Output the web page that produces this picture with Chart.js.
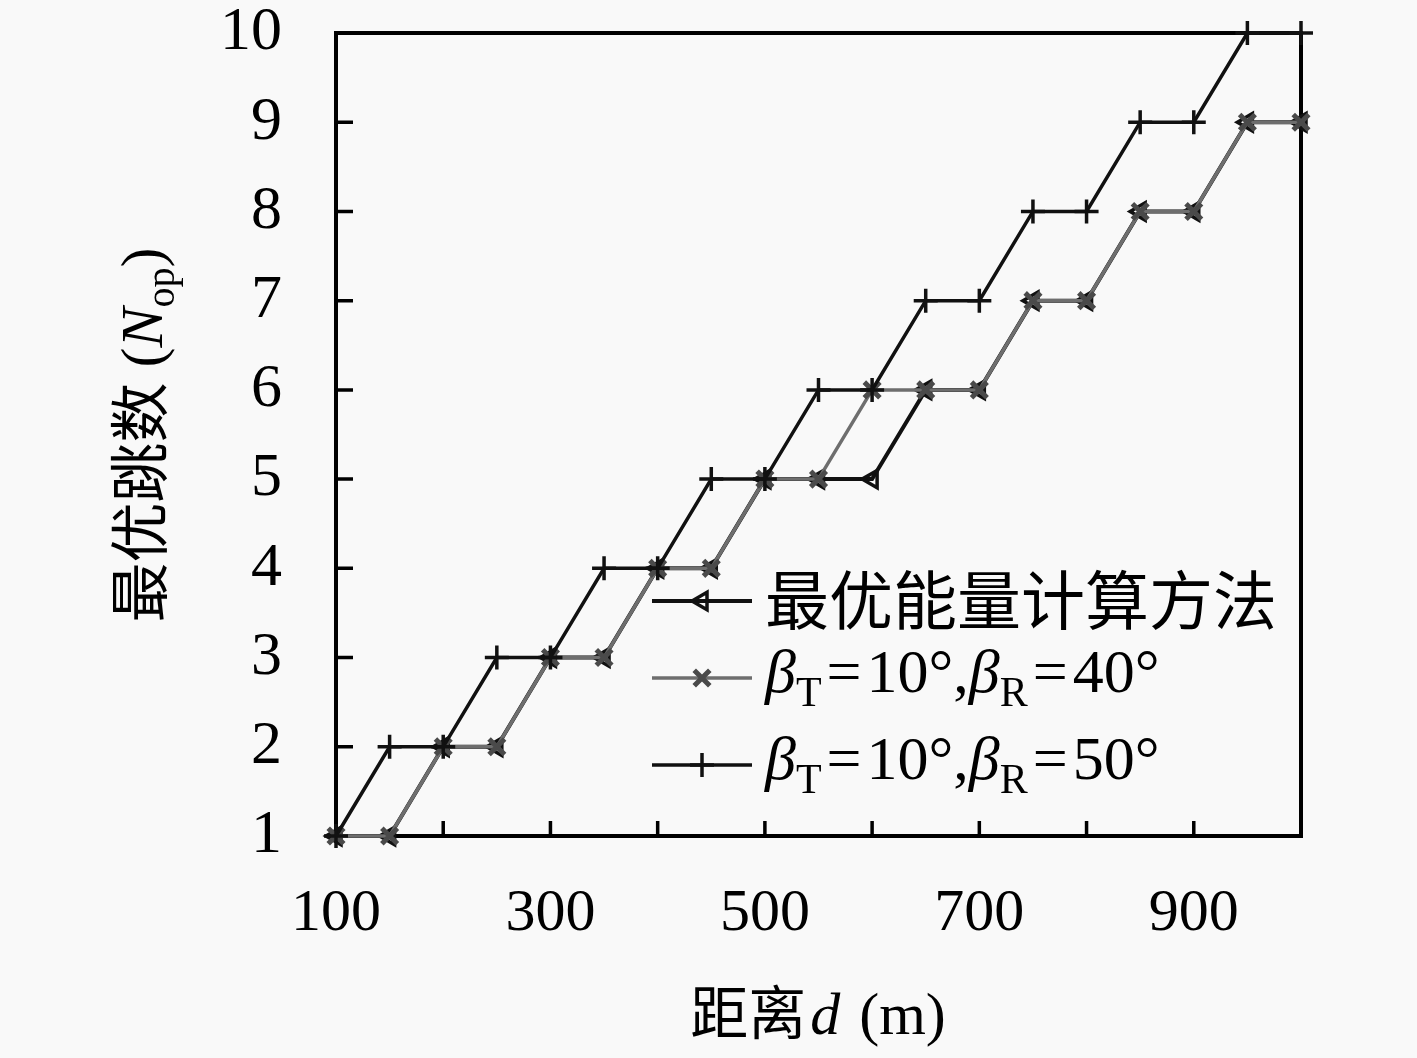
<!DOCTYPE html>
<html>
<head>
<meta charset="utf-8">
<script src="https://cdn.jsdelivr.net/npm/chart.js@4.4.0/dist/chart.umd.min.js"></script>
<style>
  html, body { margin: 0; padding: 0; background: #f9f9f9; }
  #wrap { width: 1417px; height: 1058px; }
</style>
</head>
<body>
<div id="wrap"><canvas id="hopChart" width="1417" height="1058"></canvas></div>
<script>
// distances (m) and optimal hop counts
const distances = [100, 150, 200, 250, 300, 350, 400, 450, 500, 550, 600, 650, 700, 750, 800, 850, 900, 950, 1000];
const hopsOptimal = [1, 1, 2, 2, 3, 3, 4, 4, 5, 5, 5, 6, 6, 7, 7, 8, 8, 9, 9];
const hopsR40 = [1, 1, 2, 2, 3, 3, 4, 4, 5, 5, 6, 6, 6, 7, 7, 8, 8, 9, 9];
const hopsR50 = [1, 2, 2, 3, 3, 4, 4, 5, 5, 6, 6, 7, 7, 8, 8, 9, 9, 10, 10];
const xTickLabels = [100, 300, 500, 700, 900];
const xTickMarks = [200, 300, 400, 500, 600, 700, 800, 900, 1000];
const yTickValues = [1, 2, 3, 4, 5, 6, 7, 8, 9, 10];

const SERIF = '"Liberation Serif", "DejaVu Serif", serif';
const CJK = '"Noto Sans CJK SC", sans-serif';

function toPoints(ys) {
    return distances.map((d, i) => ({ x: d, y: ys[i] }));
}

// text with subscripts / mixed fonts
function drawRich(ctx, segs, x, y, align) {
    let total = 0;
    segs.forEach(s => {
        ctx.font = s.font;
        s.w = ctx.measureText(s.t).width + (s.gap || 0) * 2;
        total += s.w;
    });
    let cx = align === 'center' ? x - total / 2 : x;
    ctx.textAlign = 'left';
    ctx.textBaseline = 'alphabetic';
    segs.forEach(s => {
        ctx.font = s.font;
        ctx.fillText(s.t, cx + (s.gap || 0), y + (s.dy || 0));
        cx += s.w;
    });
}

function betaLabel(rVal) {
    return [
        { t: 'β', font: `italic 62px ${SERIF}` },
        { t: 'T', font: `42px ${SERIF}`, dy: 14 },
        { t: '=', font: `62px ${SERIF}`, gap: 5 },
        { t: '10°,', font: `62px ${SERIF}` },
        { t: 'β', font: `italic 62px ${SERIF}` },
        { t: 'R', font: `42px ${SERIF}`, dy: 14 },
        { t: '=', font: `62px ${SERIF}`, gap: 5 },
        { t: rVal + '°', font: `62px ${SERIF}` }
    ];
}

const noPad = s => { s.paddingTop = 0; s.paddingBottom = 0; s.paddingLeft = 0; s.paddingRight = 0; };

const frame = {
    id: 'frame',
    beforeDatasetsDraw(chart) {
        const { ctx, chartArea: a, scales } = chart;
        ctx.save();
        ctx.strokeStyle = '#000';
        ctx.lineWidth = 4;
        ctx.strokeRect(a.left, a.top, a.right - a.left, a.bottom - a.top);
        // inward ticks
        ctx.lineWidth = 3.5;
        ctx.beginPath();
        yTickValues.forEach(v => {
            const py = scales.y.getPixelForValue(v);
            ctx.moveTo(a.left, py);
            ctx.lineTo(a.left + 17, py);
        });
        xTickMarks.forEach(v => {
            const px = scales.x.getPixelForValue(v);
            ctx.moveTo(px, a.bottom);
            ctx.lineTo(px, a.bottom - 15);
        });
        ctx.stroke();
        ctx.restore();
    },
    afterDraw(chart) {
        const { ctx } = chart;
        ctx.save();
        ctx.fillStyle = '#000';

        // x title
        drawRich(ctx, [
            { t: '距离', font: `58px ${CJK}` },
            { t: 'd', font: `italic 60px ${SERIF}`, gap: 4 },
            { t: ' (m)', font: `60px ${SERIF}` }
        ], 818, 1034, 'center');

        // y title (rotated)
        ctx.save();
        ctx.translate(162, 435);
        ctx.rotate(-Math.PI / 2);
        drawRich(ctx, [
            { t: '最优跳数', font: `60px ${CJK}` },
            { t: ' (', font: `60px ${SERIF}` },
            { t: 'N', font: `italic 60px ${SERIF}` },
            { t: 'op', font: `40px ${SERIF}`, dy: 12 },
            { t: ')', font: `60px ${SERIF}` }
        ], 0, 0, 'center');
        ctx.restore();

        // legend
        const rows = [
            { y: 601, ds: 0, base: 624, segs: [{ t: '最优能量计算方法', font: `64px ${CJK}` }] },
            { y: 678, ds: 1, base: 692, segs: betaLabel(40) },
            { y: 765, ds: 2, base: 779, segs: betaLabel(50) }
        ];
        rows.forEach(r => {
            const d = chart.data.datasets[r.ds];
            ctx.strokeStyle = d.borderColor;
            ctx.lineWidth = d.borderWidth;
            ctx.beginPath();
            ctx.moveTo(652, r.y);
            ctx.lineTo(752, r.y);
            ctx.stroke();
            ctx.lineWidth = d.pointBorderWidth;
            ctx.strokeStyle = d.pointBorderColor;
            ctx.fillStyle = d.pointBackgroundColor;
            Chart.helpers.drawPoint(ctx, {
                pointStyle: d.pointStyle,
                rotation: d.rotation || 0,
                radius: d.pointRadius,
                borderWidth: d.pointBorderWidth
            }, 702, r.y);
            ctx.fillStyle = '#000';
            drawRich(ctx, r.segs, 765, r.base, 'left');
        });
        ctx.restore();
    }
};

new Chart(document.getElementById('hopChart'), {
    type: 'line',
    data: {
        datasets: [{
            label: '最优能量计算方法',
            data: toPoints(hopsOptimal),
            borderColor: '#111',
            borderWidth: 4,
            pointStyle: 'triangle',
            rotation: -90,
            pointRadius: 10,
            pointBorderWidth: 3.5,
            pointBorderColor: '#111',
            pointBackgroundColor: 'rgba(0,0,0,0)',
            order: 3,
            clip: false
        }, {
            label: 'βT=10°,βR=40°',
            data: toPoints(hopsR40),
            borderColor: '#6e6e6e',
            borderWidth: 3.5,
            pointStyle: 'crossRot',
            pointRadius: 11,
            pointBorderWidth: 5,
            pointBorderColor: '#4a4a4a',
            pointBackgroundColor: '#4a4a4a',
            order: 2,
            clip: false
        }, {
            label: 'βT=10°,βR=50°',
            data: toPoints(hopsR50),
            borderColor: '#111',
            borderWidth: 3.5,
            pointStyle: 'cross',
            pointRadius: 12,
            pointBorderWidth: 3.5,
            pointBorderColor: '#111',
            pointBackgroundColor: '#111',
            order: 1,
            clip: false
        }]
    },
    options: {
        responsive: false,
        animation: false,
        devicePixelRatio: 1,
        layout: { padding: { left: 0, right: 116, top: 33, bottom: 0 } },
        plugins: {
            legend: { display: false },
            tooltip: { enabled: false }
        },
        scales: {
            x: {
                type: 'linear',
                min: 100,
                max: 1000,
                grid: { display: false },
                border: { display: false },
                afterBuildTicks: s => { s.ticks = xTickLabels.map(v => ({ value: v })); },
                afterFit: s => { s.height = 222; noPad(s); },
                ticks: {
                    color: '#000',
                    font: { family: SERIF, size: 60 },
                    padding: 34,
                    maxRotation: 0
                }
            },
            y: {
                type: 'linear',
                min: 1,
                max: 10,
                grid: { display: false },
                border: { display: false },
                afterBuildTicks: s => { s.ticks = yTickValues.map(v => ({ value: v })); },
                afterFit: s => { s.width = 336; noPad(s); },
                ticks: {
                    color: '#000',
                    font: { family: SERIF, size: 62 },
                    padding: 46
                }
            }
        }
    },
    plugins: [frame]
});
</script>
</body>
</html>
